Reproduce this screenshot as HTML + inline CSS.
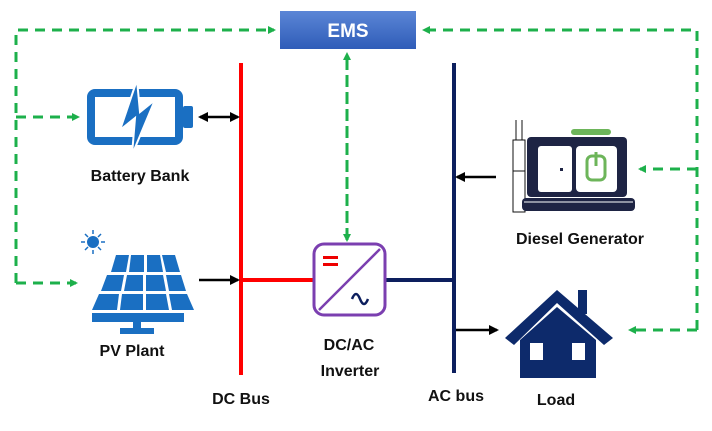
<!DOCTYPE html>
<html><head><style>
body{margin:0;background:#fff}
svg text{font-family:"Liberation Sans",sans-serif;font-weight:bold;fill:#111}
</style></head><body>
<svg width="712" height="426" viewBox="0 0 712 426" xmlns="http://www.w3.org/2000/svg">
<defs>
<linearGradient id="g" x1="0" y1="0" x2="0" y2="1"><stop offset="0" stop-color="#5b86d6"/><stop offset="1" stop-color="#2f5cb8"/></linearGradient>
<marker id="ga" markerWidth="8" markerHeight="8" refX="6" refY="4" orient="auto" markerUnits="userSpaceOnUse"><path d="M0,0 L8,4 L0,8 z" fill="#1db04b"/></marker>
<marker id="ba" markerWidth="10" markerHeight="10" refX="8" refY="5" orient="auto" markerUnits="userSpaceOnUse"><path d="M0,0 L10,5 L0,10 z" fill="#000"/></marker>
<marker id="bs" markerWidth="10" markerHeight="10" refX="2" refY="5" orient="auto" markerUnits="userSpaceOnUse"><path d="M10,0 L0,5 L10,10 z" fill="#000"/></marker>
</defs>
<!-- green dashed -->
<g stroke="#1db04b" stroke-width="3" fill="none" stroke-dasharray="10,7">
<path d="M16,283 V30 H274" marker-end="url(#ga)"/>
<path d="M16,117 H78" marker-end="url(#ga)"/>
<path d="M16,283 H76" marker-end="url(#ga)"/>
<path d="M697,330 V30 H424" marker-end="url(#ga)"/>
<path d="M697,169 H640" marker-end="url(#ga)"/>
<path d="M697,330 H630" marker-end="url(#ga)"/>
<path d="M347,238 V54" marker-end="url(#ga)"/>
<path d="M347,60 V240" marker-end="url(#ga)"/>
</g>
<!-- EMS -->
<rect x="280" y="11" width="136" height="38" fill="url(#g)"/>
<text x="348" y="37" text-anchor="middle" font-size="19" style="fill:#fff">EMS</text>
<!-- buses -->
<line x1="241" y1="63" x2="241" y2="375" stroke="#f00" stroke-width="4"/>
<line x1="241" y1="280" x2="313" y2="280" stroke="#f00" stroke-width="4"/>
<line x1="454" y1="63" x2="454" y2="373" stroke="#0d1f5e" stroke-width="4"/>
<line x1="386" y1="280" x2="452" y2="280" stroke="#0d1f5e" stroke-width="4"/>
<!-- black arrows -->
<g stroke="#000" stroke-width="2.5">
<line x1="200" y1="117" x2="238" y2="117" marker-start="url(#bs)" marker-end="url(#ba)"/>
<line x1="199" y1="280" x2="238" y2="280" marker-end="url(#ba)"/>
<line x1="496" y1="177" x2="457" y2="177" marker-end="url(#ba)"/>
<line x1="456" y1="330" x2="497" y2="330" marker-end="url(#ba)"/>
</g>
<!-- battery -->
<rect x="91" y="93" width="88" height="48" rx="4" fill="none" stroke="#1a6fc2" stroke-width="8"/>
<rect x="183" y="106" width="10" height="22" rx="2" fill="#1a6fc2"/>
<path d="M137,80 L120,130 L135,118 L132,155 L155,100 L140,112 Z" fill="#1a6fc2" stroke="#fff" stroke-width="2"/>
<text x="140" y="181" text-anchor="middle" font-size="16">Battery Bank</text>
<!-- PV -->
<circle cx="93" cy="242" r="6" fill="#1a6fc2"/>
<g stroke="#1a6fc2" stroke-width="1.5"><line x1="93" y1="230" x2="93" y2="234"/><line x1="93" y1="250" x2="93" y2="254"/><line x1="81" y1="242" x2="85" y2="242"/><line x1="101" y1="242" x2="105" y2="242"/><line x1="85" y1="234" x2="88" y2="237"/><line x1="98" y1="247" x2="101" y2="250"/><line x1="101" y1="234" x2="98" y2="237"/><line x1="85" y1="250" x2="88" y2="247"/></g>
<g fill="#1a6fc2">
<path d="M111,272 L116,255 L129,255 L126,272Z"/><path d="M129,272 L131,255 L144,255 L144,272Z"/><path d="M147,272 L147,255 L160,255 L163,272Z"/><path d="M166,272 L162,255 L175,255 L180,272Z"/>
<path d="M101,291 L107,275 L124,275 L121,291Z"/><path d="M124,291 L127,275 L143,275 L143,291Z"/><path d="M146,291 L146,275 L163,275 L166,291Z"/><path d="M169,291 L166,275 L181,275 L186,291Z"/>
<path d="M92,310 L99,294 L119,294 L117,310Z"/><path d="M120,310 L122,294 L143,294 L143,310Z"/><path d="M146,310 L146,294 L166,294 L169,310Z"/><path d="M172,310 L169,294 L187,294 L194,310Z"/>
<rect x="92" y="313" width="92" height="9"/><rect x="133" y="322" width="8" height="10"/><rect x="120" y="328" width="34" height="6"/>
</g>
<text x="132" y="356" text-anchor="middle" font-size="16">PV Plant</text>
<!-- inverter -->
<rect x="314" y="244" width="71" height="71" rx="10" fill="#fff" stroke="#7b3fb0" stroke-width="3"/>
<line x1="319" y1="310" x2="380" y2="249" stroke="#7b3fb0" stroke-width="2.5"/>
<rect x="323" y="256" width="15" height="3" fill="#e00"/><rect x="323" y="263" width="15" height="3" fill="#e00"/>
<path d="M352,299 q4,-10 8,0 q4,10 8,0" fill="none" stroke="#0d1f5e" stroke-width="2.5"/>
<text x="349" y="350" text-anchor="middle" font-size="16">DC/AC</text>
<text x="350" y="376" text-anchor="middle" font-size="16">Inverter</text>
<!-- generator -->
<rect x="513" y="140" width="12" height="72" fill="#fff" stroke="#111"/>
<line x1="516" y1="120" x2="516" y2="140" stroke="#111"/><line x1="522" y1="120" x2="522" y2="140" stroke="#111"/>
<line x1="513" y1="171" x2="525" y2="171" stroke="#111"/>
<rect x="571" y="129" width="40" height="6" rx="3" fill="#6db55a"/>
<rect x="527" y="137" width="100" height="60" rx="4" fill="#1e2444"/>
<rect x="538" y="146" width="34" height="46" rx="3" fill="#fff"/>
<rect x="576" y="146" width="41" height="46" rx="4" fill="#fff"/>
<rect x="560" y="168" width="3" height="3" fill="#1e2444"/>
<rect x="587" y="156" width="18" height="24" rx="5" fill="none" stroke="#6db55a" stroke-width="3"/>
<line x1="596" y1="152" x2="596" y2="166" stroke="#6db55a" stroke-width="3"/>
<rect x="522" y="198" width="113" height="13" rx="4" fill="#1e2444"/>
<line x1="524" y1="202" x2="633" y2="202" stroke="#fff" stroke-width="1"/>
<text x="580" y="244" text-anchor="middle" font-size="16">Diesel Generator</text>
<!-- house -->
<g fill="#0d2a6b">
<path d="M505,338 L557,290 L613,338 L604,345 L557,303 L514,345Z"/>
<rect x="578" y="290" width="9" height="24"/>
<path d="M520,340 L557,307 L596,340 V378 H520Z"/>
</g>
<rect x="530" y="343" width="13" height="17" fill="#fff"/><rect x="572" y="343" width="13" height="17" fill="#fff"/>
<text x="556" y="405" text-anchor="middle" font-size="16">Load</text>
<text x="241" y="404" text-anchor="middle" font-size="16">DC Bus</text>
<text x="456" y="401" text-anchor="middle" font-size="16">AC bus</text>
</svg>
</body></html>
